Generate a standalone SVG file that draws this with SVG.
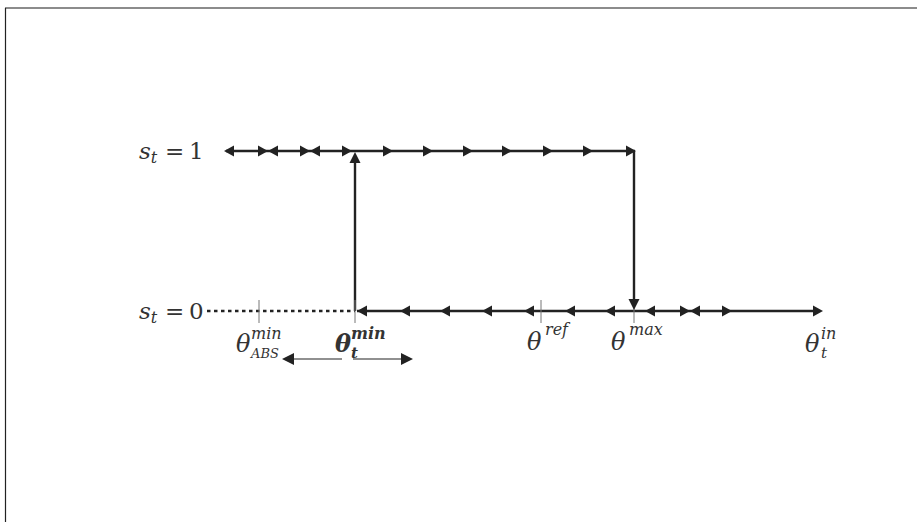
<svg xmlns="http://www.w3.org/2000/svg" width="917" height="522" viewBox="0 0 917 522">
<style>
.ln{stroke:#222;stroke-width:2.4;fill:none}
.thin{stroke:#222;stroke-width:1.1;fill:none}
.tick{stroke:#777;stroke-width:1;fill:none}
.dot{stroke:#222;stroke-width:2.4;fill:none;stroke-dasharray:3.5 3.5}
.ah{fill:#222}
text{font-family:"DejaVu Serif","Liberation Serif",serif;fill:#333}
.it{font-style:italic}
</style>
<defs>
<path id="r" d="M0,0 L-10,-5.5 L-10,5.5 Z"/>
<path id="l" d="M0,0 L10,-5.5 L10,5.5 Z"/>
<path id="u" d="M0,0 L-5.5,11 L5.5,11 Z"/>
<path id="d" d="M0,0 L-5.5,-11 L5.5,-11 Z"/>
<path id="rs" d="M0,0 L-12,-6 L-12,6 Z"/>
<path id="ls" d="M0,0 L12,-6 L12,6 Z"/>
</defs>
<rect width="917" height="522" fill="#fff"/>
<g id="frame">
<line x1="5" y1="8" x2="917" y2="8" stroke="#666" stroke-width="1.5"/>
<line x1="5.5" y1="8" x2="5.5" y2="522" stroke="#222" stroke-width="1.2"/>
</g>
<g id="connectors">
<line class="ln" x1="226" y1="151" x2="635" y2="151"/>
<line class="ln" x1="355" y1="311" x2="355" y2="156"/>
<line class="ln" x1="634" y1="151" x2="634" y2="305"/>
<line class="dot" x1="207" y1="311" x2="355" y2="311"/>
<line class="ln" x1="357" y1="311" x2="818" y2="311"/>
<line class="tick" x1="259" y1="300" x2="259" y2="323"/>
<line class="tick" x1="355" y1="300" x2="355" y2="323"/>
<line class="tick" x1="541" y1="300" x2="541" y2="323"/>
<line class="tick" x1="634" y1="300" x2="634" y2="323"/>
<line class="thin" x1="342" y1="359" x2="290" y2="359"/>
<line class="thin" x1="353" y1="359" x2="404" y2="359"/>
</g>
<g id="arrowheads" class="ah">
<use href="#l" x="224" y="151"/>
<use href="#r" x="268" y="151"/>
<use href="#l" x="268" y="151"/>
<use href="#r" x="310" y="151"/>
<use href="#l" x="310" y="151"/>
<use href="#r" x="352" y="151"/>
<use href="#r" x="393" y="151"/>
<use href="#r" x="433" y="151"/>
<use href="#r" x="473" y="151"/>
<use href="#r" x="512" y="151"/>
<use href="#r" x="553" y="151"/>
<use href="#r" x="593" y="151"/>
<use href="#r" x="636" y="151"/>
<use href="#u" x="355" y="152"/>
<use href="#d" x="634" y="310"/>
<use href="#l" x="357" y="311"/>
<use href="#l" x="400" y="311"/>
<use href="#l" x="440" y="311"/>
<use href="#l" x="482" y="311"/>
<use href="#l" x="524" y="311"/>
<use href="#l" x="565" y="311"/>
<use href="#l" x="605" y="311"/>
<use href="#l" x="645" y="311"/>
<use href="#r" x="690" y="311"/>
<use href="#l" x="690" y="311"/>
<use href="#r" x="732" y="311"/>
<use href="#r" x="823" y="311"/>
<use href="#ls" x="282" y="359"/>
<use href="#rs" x="413" y="359"/>
</g>
<g id="label-s1">
<text x="139" y="159" font-size="23"><tspan class="it">s</tspan><tspan class="it" font-size="16" dy="4">t</tspan><tspan x="165" dy="-4">=</tspan><tspan x="189">1</tspan></text>
</g>
<g id="label-s0">
<text x="139" y="319" font-size="23"><tspan class="it">s</tspan><tspan class="it" font-size="16" dy="4">t</tspan><tspan x="165" dy="-4">=</tspan><tspan x="189">0</tspan></text>
</g>
<g id="label-abs">
<text x="236" y="352" font-size="24" class="it">θ</text>
<text x="251" y="339" font-size="16" class="it">min</text>
<text x="251" y="358" font-size="13" class="it">ABS</text>
</g>
<g id="label-tmin">
<text x="335" y="352" font-size="24" class="it" font-weight="bold">θ</text>
<text x="351" y="339" font-size="16" class="it" font-weight="bold">min</text>
<text x="351" y="358" font-size="15" class="it" font-weight="bold">t</text>
</g>
<g id="label-ref">
<text x="527" y="350" font-size="24" class="it">θ</text>
<text x="545" y="335" font-size="16" class="it">ref</text>
</g>
<g id="label-max">
<text x="611" y="350" font-size="24" class="it">θ</text>
<text x="629" y="335" font-size="16" class="it">max</text>
</g>
<g id="label-in">
<text x="805" y="352" font-size="24" class="it">θ</text>
<text x="821" y="339" font-size="16" class="it">in</text>
<text x="821" y="358" font-size="15" class="it">t</text>
</g>
</svg>
